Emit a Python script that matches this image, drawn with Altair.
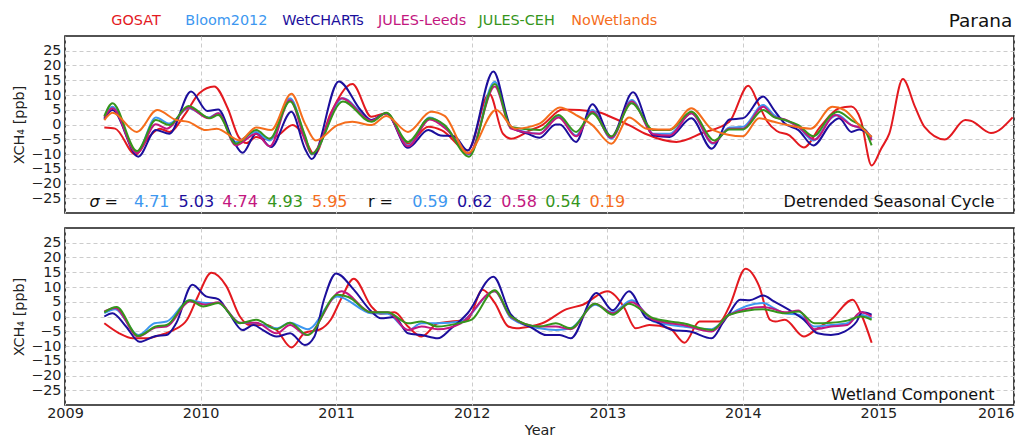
import altair as alt
import pandas as pd

FONT = "DejaVu Sans"
NAMES = ["GOSAT", "Bloom2012", "WetCHARTs", "JULES-Leeds", "JULES-CEH", "NoWetlands"]
COLORS = ["#e3191f", "#3d97f0", "#1c0f9c", "#c3177f", "#35951c", "#f56d1c"]
YEARS = [2009, 2010, 2011, 2012, 2013, 2014, 2015, 2016]
YTICKS = [-25, -20, -15, -10, -5, 0, 5, 10, 15, 20, 25]

SIGMA = ["4.71", "5.03", "4.74", "4.93", "5.95"]
R_VALUES = ["0.59", "0.62", "0.58", "0.54", "0.19"]

# ---------------- Detrended Seasonal Cycle (top panel) ----------------
top_gosat_t = [2009.29, 2009.37, 2009.52, 2009.62, 2009.70, 2009.77, 2009.89, 2009.99,
               2010.10, 2010.20, 2010.28, 2010.34, 2010.41, 2010.47, 2010.56, 2010.68, 2010.75, 2010.84, 2010.96,
               2011.12, 2011.26, 2011.37, 2011.53, 2011.68, 2011.78, 2011.97,
               2012.13, 2012.23, 2012.29, 2012.43, 2012.52, 2012.67, 2012.92,
               2013.04, 2013.16, 2013.29, 2013.51, 2013.70, 2013.90,
               2014.04, 2014.12, 2014.18, 2014.25, 2014.34, 2014.45, 2014.57, 2014.71, 2014.80, 2014.87, 2014.95,
               2015.02, 2015.08, 2015.18, 2015.27, 2015.34, 2015.49, 2015.64, 2015.68, 2015.83, 2015.99]
top_gosat_v = [-1.0, -1.4, -10.2, -4.2, -1.4, -2.5, 3.8, 10.6,
               12.9, 5.5, -4.2, -6.3, -4.2, -5.0, -4.0, -0.2, -3.0, -10.2, 3.8,
               13.7, 2.6, 3.8, -6.5, -0.8, -2.0, -8.8,
               10.4, -3.1, -4.8, -2.0, -0.2, 5.1, 4.3,
               2.3, -0.2, -3.3, -5.9, -2.9, 0.9,
               13.1, 6.5, 1.0, -2.2, -3.6, -7.8, -0.8, 5.5, 6.1, 1.5, -13.9,
               -8.2, -3.1, 15.4, 6.0, -0.8, -5.1, 1.5, 1.3, -2.9, 2.4]

top_bloom_t = [2009.29, 2009.35, 2009.53, 2009.67, 2009.77, 2009.91,
               2010.06, 2010.13, 2010.26, 2010.41, 2010.51, 2010.66, 2010.77, 2010.82,
               2011.05, 2011.26, 2011.37, 2011.53, 2011.69, 2011.82, 2011.98,
               2012.17, 2012.29, 2012.50, 2012.64, 2012.77, 2012.89,
               2013.03, 2013.18, 2013.34, 2013.46, 2013.62, 2013.78, 2013.90,
               2014.00, 2014.15, 2014.23, 2014.31, 2014.41, 2014.52, 2014.65, 2014.70, 2014.80, 2014.90, 2014.95]
top_bloom_v = [1.7, 6.0, -9.4, 2.4, 0.3, 5.5,
               2.4, 3.8, -5.9, -2.5, -5.4, 8.9, -4.2, -10.2,
               8.9, 1.5, 3.8, -7.1, 2.4, -1.4, -10.2,
               14.5, -1.0, -3.1, 2.9, -3.7, 4.9,
               -4.8, 8.3, -3.1, -3.1, 3.8, -6.5, -1.0,
               -0.8, 6.6, 3.2, 1.5, -0.8, -5.4, 2.1, 3.2, -0.2, -1.7, -4.8]

top_wet_t = [2009.29, 2009.35, 2009.54, 2009.67, 2009.77, 2009.93,
             2010.05, 2010.13, 2010.24, 2010.31, 2010.41, 2010.52, 2010.67, 2010.77, 2010.82,
             2011.02, 2011.18, 2011.26, 2011.37, 2011.53, 2011.68, 2011.77, 2011.87, 2011.97,
             2012.16, 2012.29, 2012.41, 2012.50, 2012.62, 2012.65, 2012.77, 2012.89,
             2013.03, 2013.19, 2013.34, 2013.46, 2013.62, 2013.77, 2013.90,
             2014.00, 2014.15, 2014.23, 2014.31, 2014.41, 2014.52, 2014.65, 2014.71, 2014.80, 2014.86, 2014.95]
top_wet_v = [2.0, 4.9, -10.9, -1.9, -3.1, 11.2,
             4.6, 5.1, -5.4, -9.6, -3.1, -7.6, 4.3, -8.2, -11.7,
             14.6, 4.9, 1.5, 3.8, -7.9, -1.9, -3.7, -4.0, -8.8,
             18.0, -0.8, -3.1, -4.5, 0.0, 0.0, -5.9, 6.9,
             -4.2, 10.9, -3.7, -4.2, 2.1, -8.2, 1.7,
             2.1, 9.5, 4.9, 0.3, -1.9, -7.1, 0.3, 2.1, -2.5, -1.7, -4.2]

top_leeds_t = [2009.29, 2009.35, 2009.53, 2009.67, 2009.75, 2009.91,
               2010.06, 2010.13, 2010.26, 2010.41, 2010.51, 2010.66, 2010.77, 2010.82,
               2011.04, 2011.26, 2011.37, 2011.53, 2011.69, 2011.82, 2011.98,
               2012.17, 2012.29, 2012.50, 2012.64, 2012.77, 2012.89,
               2013.03, 2013.18, 2013.34, 2013.46, 2013.62, 2013.78, 2013.90,
               2014.00, 2014.15, 2014.23, 2014.31, 2014.41, 2014.53, 2014.68, 2014.80, 2014.90, 2014.95]
top_leeds_v = [2.4, 5.5, -9.7, 0.1, -1.4, 5.8,
               2.1, 3.8, -7.1, -3.1, -7.4, 8.3, -5.4, -9.9,
               8.9, 1.3, 3.8, -7.4, 1.7, -1.9, -9.9,
               12.9, -1.4, -3.1, 2.4, -4.0, 4.3,
               -4.5, 7.8, -3.3, -3.7, 3.8, -6.3, -1.4,
               -1.4, 6.0, 2.6, 1.7, -0.8, -5.1, 3.2, -0.2, -1.7, -5.4]

top_ceh_t = [2009.29, 2009.35, 2009.53, 2009.67, 2009.77, 2009.91,
             2010.07, 2010.13, 2010.26, 2010.41, 2010.51, 2010.66, 2010.77, 2010.82,
             2011.05, 2011.26, 2011.37, 2011.53, 2011.69, 2011.80, 2011.98,
             2012.17, 2012.29, 2012.50, 2012.64, 2012.77, 2012.89,
             2013.03, 2013.18, 2013.34, 2013.46, 2013.62, 2013.79, 2013.90,
             2014.00, 2014.15, 2014.23, 2014.31, 2014.41, 2014.52, 2014.65, 2014.70, 2014.80, 2014.90, 2014.95]
top_ceh_v = [2.8, 7.2, -9.0, 1.5, -0.2, 6.3,
             2.1, 3.2, -6.5, -1.9, -4.8, 7.8, -3.7, -9.9,
             7.8, 0.9, 4.0, -5.9, 2.1, -0.2, -10.9,
             13.7, -0.8, -1.9, 3.2, -2.5, 3.8,
             -4.0, 7.2, -1.9, -1.9, 4.3, -5.4, -1.7,
             -1.7, 4.9, 2.5, 1.5, -0.2, -4.0, 3.2, 4.3, 1.5, -1.9, -7.1]

top_nowet_t = [2009.29, 2009.35, 2009.53, 2009.68, 2009.82, 2009.91,
               2010.04, 2010.12, 2010.29, 2010.41, 2010.52, 2010.67, 2010.77, 2010.85,
               2011.01, 2011.12, 2011.26, 2011.37, 2011.53, 2011.70, 2011.80, 2011.97,
               2012.18, 2012.32, 2012.50, 2012.65, 2012.77, 2012.89,
               2013.03, 2013.16, 2013.29, 2013.46, 2013.62, 2013.78,
               2014.00, 2014.12, 2014.23, 2014.31, 2014.50, 2014.66, 2014.75, 2014.87, 2014.95]
top_nowet_v = [1.5, 4.0, -2.5, 4.9, 1.5, 0.9,
               -1.9, -1.4, -5.4, -1.0, -1.9, 10.4, 0.3, -5.4,
               -0.2, 0.9, -0.2, 2.9, -2.5, 4.3, 2.9, -9.7,
               4.9, -1.4, 0.3, 5.8, 3.2, -0.2,
               -6.5, 2.4, -1.4, -1.7, 5.5, -1.9,
               -4.0, 2.1, 0.9, 0.0, -1.4, 6.0, 4.9, -0.8, -4.2]

# ---------------- Wetland Component (bottom panel) ----------------
bot_gosat_t = [2009.29, 2009.40, 2009.50, 2009.60, 2009.70, 2009.80, 2009.90, 2009.98,
               2010.08, 2010.19, 2010.29, 2010.36, 2010.48, 2010.56, 2010.67, 2010.77, 2010.88, 2010.96,
               2011.04, 2011.13, 2011.26, 2011.33, 2011.43, 2011.53, 2011.63, 2011.75, 2011.85, 2011.97,
               2012.08, 2012.17, 2012.27, 2012.33, 2012.43, 2012.52, 2012.70, 2012.82,
               2013.00, 2013.12, 2013.21, 2013.31, 2013.46, 2013.57, 2013.68, 2013.83, 2013.90,
               2014.02, 2014.12, 2014.20, 2014.24, 2014.31, 2014.45, 2014.55, 2014.65, 2014.81, 2014.88, 2014.95]
bot_gosat_v = [-2.3, -5.7, -7.4, -7.4, -6.3, -4.6, -1.1, 6.8,
               14.8, 10.3, 0.0, -2.9, -2.9, -4.6, -10.5, -5.5, -4.4, -1.1,
               6.3, 12.8, 3.4, 0.9, 1.4, -3.4, -6.8, -2.3, -1.7, -1.1,
               9.1, 4.6, -3.4, -4.0, -3.4, -2.3, 2.5, 4.0,
               8.6, 3.4, -4.0, -2.9, -4.0, -8.9, -1.7, -1.7, 3.4,
               16.2, 10.3, -1.1, -1.7, -1.1, -6.8, -4.0, -1.1, 5.7, 0.0, -8.9]

bot_bloom_t = [2009.29, 2009.37, 2009.54, 2009.66, 2009.75, 2009.92,
               2010.04, 2010.13, 2010.29, 2010.41, 2010.56, 2010.66, 2010.79,
               2011.01, 2011.26, 2011.38, 2011.53, 2011.63, 2011.75, 2011.92,
               2012.17, 2012.29, 2012.50, 2012.62, 2012.73, 2012.91,
               2013.04, 2013.18, 2013.34, 2013.56, 2013.77, 2013.90,
               2014.15, 2014.23, 2014.31, 2014.41, 2014.53, 2014.65, 2014.77, 2014.87, 2014.95]
bot_bloom_v = [1.1, 2.5, -6.3, -2.3, -1.7, 5.5,
               4.6, 4.6, -2.1, -2.3, -4.0, -2.1, -4.3,
               6.8, 1.1, 0.9, -4.6, -2.3, -2.3, -1.7,
               8.6, -0.6, -4.0, -4.6, -4.0, 4.0,
               1.4, 5.5, -1.7, -3.4, -4.3, 0.6,
               4.6, 2.8, 1.1, 0.6, -3.4, -2.9, -2.3, 0.6, -0.6]

bot_wet_t = [2009.29, 2009.35, 2009.45, 2009.55, 2009.67, 2009.75, 2009.82, 2009.94,
             2010.04, 2010.13, 2010.21, 2010.31, 2010.39, 2010.46, 2010.56, 2010.66, 2010.77, 2010.84, 2010.91,
             2011.00, 2011.13, 2011.26, 2011.33, 2011.43, 2011.53, 2011.63, 2011.75, 2011.85, 2011.97,
             2012.16, 2012.29, 2012.45, 2012.55, 2012.65, 2012.73, 2012.92,
             2013.04, 2013.16, 2013.29, 2013.36, 2013.48, 2013.61, 2013.77, 2013.85, 2013.90, 2013.98,
             2014.05, 2014.15, 2014.23, 2014.36, 2014.45, 2014.55, 2014.65, 2014.75, 2014.84, 2014.88, 2014.95]
bot_wet_v = [0.0, 1.1, -3.4, -8.6, -6.6, -6.3, -2.3, 10.8,
             6.8, 5.9, 1.1, -4.6, -2.9, -4.6, -6.8, -5.7, -9.7, -6.8, 5.7,
             14.6, 9.1, 1.7, -0.6, -0.2, -5.7, -6.3, -7.4, -4.0, 1.1,
             13.5, 0.6, -4.0, -6.3, -6.3, -7.4, 8.0,
             2.1, 8.6, -0.6, -1.7, -4.6, -5.1, -7.4, -2.3, 1.1, 5.7,
             5.5, 7.1, 5.1, 1.7, -1.1, -5.7, -6.3, -5.1, -1.7, 1.4, 0.6]

bot_leeds_t = [2009.29, 2009.37, 2009.54, 2009.67, 2009.75, 2009.92,
               2010.04, 2010.13, 2010.29, 2010.41, 2010.56, 2010.66, 2010.78,
               2011.04, 2011.26, 2011.38, 2011.53, 2011.63, 2011.75, 2011.92,
               2012.17, 2012.29, 2012.50, 2012.62, 2012.73, 2012.91,
               2013.04, 2013.18, 2013.34, 2013.56, 2013.77, 2013.90,
               2014.15, 2014.23, 2014.31, 2014.41, 2014.53, 2014.65, 2014.77, 2014.87, 2014.95]
bot_leeds_v = [1.7, 2.9, -6.8, -3.7, -3.4, 5.1,
               4.0, 4.8, -2.1, -2.1, -5.7, -2.9, -6.3,
               8.6, 1.4, 1.4, -4.6, -3.4, -4.3, -2.3,
               8.6, -0.2, -3.4, -3.4, -4.3, 4.3,
               1.1, 4.8, -1.1, -2.9, -5.1, 0.6,
               3.2, 2.5, 1.4, 2.0, -4.3, -3.4, -2.9, 1.4, 0.0]

bot_ceh_t = [2009.29, 2009.38, 2009.54, 2009.67, 2009.75, 2009.92,
             2010.02, 2010.13, 2010.29, 2010.41, 2010.56, 2010.66, 2010.79,
             2011.01, 2011.09, 2011.26, 2011.38, 2011.53, 2011.63, 2011.75, 2011.92,
             2012.00, 2012.17, 2012.29, 2012.50, 2012.62, 2012.73, 2012.91,
             2013.04, 2013.16, 2013.34, 2013.56, 2013.77, 2013.90,
             2014.15, 2014.31, 2014.41, 2014.53, 2014.65, 2014.77, 2014.87, 2014.95]
bot_ceh_v = [1.4, 3.2, -6.6, -3.4, -2.9, 5.5,
             3.4, 4.6, -2.3, -1.1, -4.3, -2.1, -6.3,
             7.4, 6.6, 1.4, 1.4, -2.3, -1.7, -3.4, -2.1,
             -1.1, 8.9, 0.0, -3.4, -2.3, -4.0, 4.3,
             0.6, 4.3, -0.6, -2.3, -4.6, 0.6,
             2.5, 1.1, 1.7, -2.3, -2.1, -1.4, 0.0, -1.1]

TOP = [("GOSAT", top_gosat_t, top_gosat_v), ("Bloom2012", top_bloom_t, top_bloom_v),
       ("WetCHARTs", top_wet_t, top_wet_v), ("JULES-Leeds", top_leeds_t, top_leeds_v),
       ("JULES-CEH", top_ceh_t, top_ceh_v), ("NoWetlands", top_nowet_t, top_nowet_v)]
BOT = [("GOSAT", bot_gosat_t, bot_gosat_v), ("Bloom2012", bot_bloom_t, bot_bloom_v),
       ("WetCHARTs", bot_wet_t, bot_wet_v), ("JULES-Leeds", bot_leeds_t, bot_leeds_v),
       ("JULES-CEH", bot_ceh_t, bot_ceh_v)]

COLOR_OF = dict(zip(NAMES, COLORS))
W, H = 949, 177
XSCALE = alt.Scale(domain=[2009, 2016], nice=False, zero=False)
YSCALE = alt.Scale(domain=[-30, 30], nice=False, zero=False)
GRID = dict(grid=True, gridColor="#cccccc", gridDash=[4, 3], gridWidth=1)

x_axis_top = alt.Axis(values=YEARS, labels=False, ticks=False, domain=False, title=None, **GRID)
x_axis_bot = alt.Axis(values=YEARS, format="d", ticks=False, domain=False, title="Year",
                      labelFontSize=14.4, labelPadding=1, labelColor="#222222", labelFlush=False,
                      labelAlign=alt.condition("datum.value == 2016", alt.value("right"), alt.value("center")),
                      titleFontSize=14.4, titleFontWeight="normal", titlePadding=4,
                      titleColor="#222222", **GRID)
y_axis = alt.Axis(values=YTICKS, ticks=False, domain=False, title="XCH\u2084 [ppb]",
                  labelFontSize=14.4, labelPadding=4, labelColor="#222222", labelFlush=False,
                  titleFontSize=14.4, titleFontWeight="normal", titlePadding=4,
                  titleColor="#222222", **GRID)


def panel(series, xaxis, texts):
    zero = alt.Chart(pd.DataFrame({"t": [2009.0], "v": [0.0]})).mark_rule(
        color="black", strokeDash=[5, 3], strokeWidth=1.2
    ).encode(
        x=alt.X("t:Q", scale=XSCALE, axis=xaxis),
        y=alt.Y("v:Q", scale=YSCALE, axis=y_axis),
    )
    layers = [zero]
    for name, t, v in series:
        df = pd.DataFrame({"t": t, "v": v})
        layers.append(
            alt.Chart(df).mark_line(interpolate="monotone", strokeWidth=2, color=COLOR_OF[name]).encode(
                x=alt.X("t:Q", scale=XSCALE, axis=xaxis),
                y=alt.Y("v:Q", scale=YSCALE, axis=y_axis),
            )
        )
    for df, kw in texts:
        layers.append(
            alt.Chart(df).mark_text(font=FONT, baseline="alphabetic", **kw).encode(
                x=alt.X("px:Q", scale=None),
                y=alt.Y("py:Q", scale=None),
                text="label:N",
                color=alt.Color("col:N", scale=None),
            )
        )
    return alt.layer(*layers).properties(width=W, height=H)


# annotation layout (pixel offsets inside each plot area)
legend_df = pd.DataFrame({"label": NAMES, "col": COLORS,
                          "px": [46.3, 120.3, 217.3, 312.9, 413.6, 506.3],
                          "py": [-11] * 6})
title_df = pd.DataFrame({"label": ["Parana"], "col": ["#111111"], "px": [947.3], "py": [-9.3]})
stat_labels = ["="] + SIGMA + ["r ="] + R_VALUES
stat_cols = ["#111111"] + COLORS[1:] + ["#111111"] + COLORS[1:]
stat_df = pd.DataFrame({"label": stat_labels, "col": stat_cols,
                        "px": [39.6, 68.9, 113.6, 157.3, 202.3, 246.9, 302.9, 347.3, 391.9, 436.3, 480.3, 524.6],
                        "py": [170.7] * 12})
sigma_df = pd.DataFrame({"label": ["\u03c3"], "col": ["#111111"], "px": [24.6], "py": [170.7]})
top_tag = pd.DataFrame({"label": ["Detrended Seasonal Cycle"], "col": ["#111111"], "px": [929.6], "py": [170.7]})
bot_tag = pd.DataFrame({"label": ["Wetland Component"], "col": ["#111111"], "px": [929.6], "py": [172.3]})

top = panel(TOP, x_axis_top, [
    (legend_df, dict(align="left", fontSize=14.4)),
    (title_df, dict(align="right", fontSize=18.5)),
    (sigma_df, dict(align="left", fontSize=16, fontStyle="italic")),
    (stat_df, dict(align="left", fontSize=16)),
    (top_tag, dict(align="right", fontSize=16)),
])
bot = panel(BOT, x_axis_bot, [
    (bot_tag, dict(align="right", fontSize=16)),
])

chart = alt.vconcat(top, bot, spacing=13).properties(
    padding={"left": 2, "top": 2, "right": 0, "bottom": 0},
    background="white",
).configure_view(
    stroke="#1a1a1a", strokeWidth=1.6
).configure_axis(
    labelFont=FONT, titleFont=FONT
)

chart.save("out.html", embed_options={"renderer": "svg", "actions": False})
